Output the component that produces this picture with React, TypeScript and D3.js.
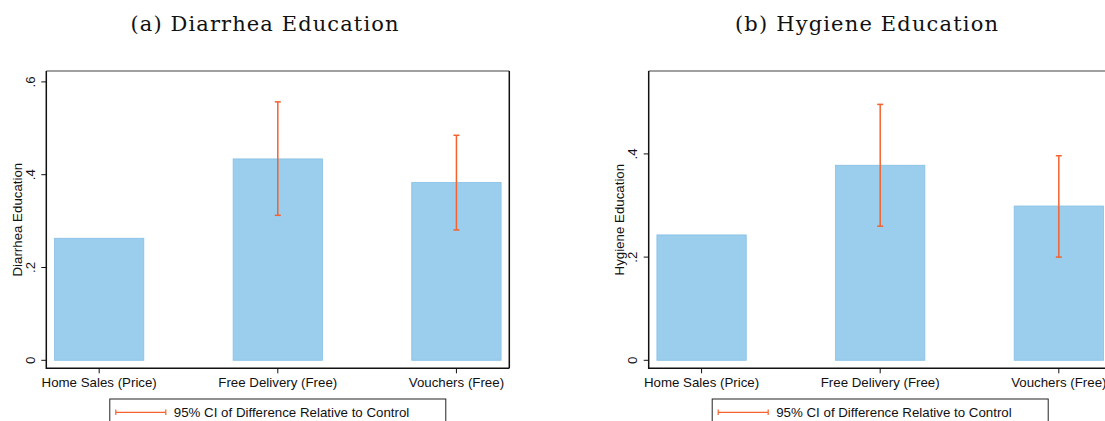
import React from "react";
import * as d3 from "d3";

const categories = ["Home Sales (Price)", "Free Delivery (Free)", "Vouchers (Free)"];

const diarrheaMeans = [0.263, 0.434, 0.383];
const diarrheaCILow: (number | null)[] = [null, 0.3125, 0.281];
const diarrheaCIHigh: (number | null)[] = [null, 0.557, 0.485];
const diarrheaTicks = [0, 0.2, 0.4, 0.6];

const hygieneMeans = [0.243, 0.378, 0.299];
const hygieneCILow: (number | null)[] = [null, 0.26, 0.2];
const hygieneCIHigh: (number | null)[] = [null, 0.496, 0.3965];
const hygieneTicks = [0, 0.2, 0.4];

const legendLabel = "95% CI of Difference Relative to Control";

const BAR_FILL = "#9BCDEC";
const BAR_STROKE = "#85BFE6";
const CI_COLOR = "#F5622F";
const SANS = "'Liberation Sans', Arial, Helvetica, sans-serif";
const SERIF = "'DejaVu Serif', 'Liberation Serif', serif";

const fmt = (v: number) => (v === 0 ? "0" : d3.format(".1f")(v).replace(/^0/, ""));

type PanelProps = {
  left: number;
  title: string;
  titleX: number;
  titleW: number;
  yLabel: string;
  means: number[];
  ciLow: (number | null)[];
  ciHigh: (number | null)[];
  ticks: number[];
  yDomain: [number, number];
  labelOffset: number;
};

function Panel({ left, title, titleX, titleW, yLabel, means, ciLow, ciHigh, ticks, yDomain, labelOffset }: PanelProps) {
  const top = 71;
  const bottom = 368.3;
  const width = 463;
  const right = left + width;
  const x = d3.scalePoint<string>().domain(categories).range([left, right]).padding(0.296);
  const y = d3.scaleLinear().domain(yDomain).range([bottom, top]);
  const barW = x.step() * 0.5;
  const fs = 13.3;
  return (
    <g>
      <text x={titleX} y={31} fontFamily={SERIF} fontSize={21} textAnchor="middle" textLength={titleW} lengthAdjust="spacing" fill="#111">
        {title}
      </text>
      {categories.map((c, i) => (
        <rect
          key={c}
          x={(x(c) as number) - barW / 2}
          y={y(means[i])}
          width={barW}
          height={y(0) - y(means[i])}
          fill={BAR_FILL}
          stroke={BAR_STROKE}
          strokeWidth={0.8}
        />
      ))}
      {categories.map((c, i) => {
        const lo = ciLow[i];
        const hi = ciHigh[i];
        if (lo == null || hi == null) return null;
        const cx = x(c) as number;
        return (
          <g key={"ci" + c} stroke={CI_COLOR} strokeWidth={1.5}>
            <line x1={cx} x2={cx} y1={y(lo)} y2={y(hi)} />
            <line x1={cx - 3} x2={cx + 3} y1={y(hi)} y2={y(hi)} />
            <line x1={cx - 3} x2={cx + 3} y1={y(lo)} y2={y(lo)} />
          </g>
        );
      })}
      {/* frame */}
      <line x1={left} x2={right} y1={top} y2={top} stroke="#808080" strokeWidth={1.5} />
      <line x1={right} x2={right} y1={top} y2={bottom} stroke="#111" strokeWidth={1.5} />
      <line x1={left} x2={left} y1={top} y2={bottom + 0.75} stroke="#111" strokeWidth={1.5} />
      <line x1={left} x2={right} y1={bottom} y2={bottom} stroke="#111" strokeWidth={1.5} />
      {/* y ticks */}
      {ticks.map((t) => (
        <g key={"yt" + t}>
          <line x1={left - 5} x2={left} y1={y(t)} y2={y(t)} stroke="#111" strokeWidth={1} />
          <text
            transform={`translate(${left - labelOffset},${y(t)}) rotate(-90)`}
            textAnchor="middle"
            fontFamily={SANS}
            fontSize={fs}
            fill="#111"
          >
            {fmt(t)}
          </text>
        </g>
      ))}
      <text
        transform={`translate(${left - labelOffset - 13.5},${(top + bottom) / 2}) rotate(-90)`}
        textAnchor="middle"
        fontFamily={SANS}
        fontSize={fs}
        fill="#111"
      >
        {yLabel}
      </text>
      {/* x ticks */}
      {categories.map((c) => (
        <g key={"xt" + c}>
          <line x1={x(c)} x2={x(c)} y1={bottom} y2={bottom + 5} stroke="#111" strokeWidth={1} />
          <text x={x(c)} y={386.8} textAnchor="middle" fontFamily={SANS} fontSize={fs} fill="#111">
            {c}
          </text>
        </g>
      ))}
      {/* legend */}
      <g>
        <rect x={(left + right) / 2 - 168} y={399} width={336} height={40} fill="white" stroke="#222" strokeWidth={1} />
        <g stroke={CI_COLOR} strokeWidth={1.2}>
          <line x1={(left + right) / 2 - 162} x2={(left + right) / 2 - 112} y1={412.3} y2={412.3} />
          <line x1={(left + right) / 2 - 162} x2={(left + right) / 2 - 162} y1={409.5} y2={415} />
          <line x1={(left + right) / 2 - 112} x2={(left + right) / 2 - 112} y1={409.5} y2={415} />
        </g>
        <text x={(left + right) / 2 - 104} y={417} fontFamily={SANS} fontSize={fs} fill="#111">
          {legendLabel}
        </text>
      </g>
    </g>
  );
}

export default function App() {
  return (
    <svg
      width={1105}
      height={421}
      style={{ position: "absolute", left: 0, top: 0, background: "white" }}
    >
      <rect width={1105} height={421} fill="white" />
      <Panel
        left={46.3}
        title="(a) Diarrhea Education"
        titleX={264.5}
        titleW={268}
        yLabel="Diarrhea Education"
        means={diarrheaMeans}
        ciLow={diarrheaCILow}
        ciHigh={diarrheaCIHigh}
        ticks={diarrheaTicks}
        yDomain={[-0.01724, 0.6235]}
        labelOffset={11.3}
      />
      <Panel
        left={648.7}
        title="(b) Hygiene Education"
        titleX={866.5}
        titleW={263}
        yLabel="Hygiene Education"
        means={hygieneMeans}
        ciLow={hygieneCILow}
        ciHigh={hygieneCIHigh}
        ticks={hygieneTicks}
        yDomain={[-0.0155, 0.5607]}
        labelOffset={11.7}
      />
    </svg>
  );
}
